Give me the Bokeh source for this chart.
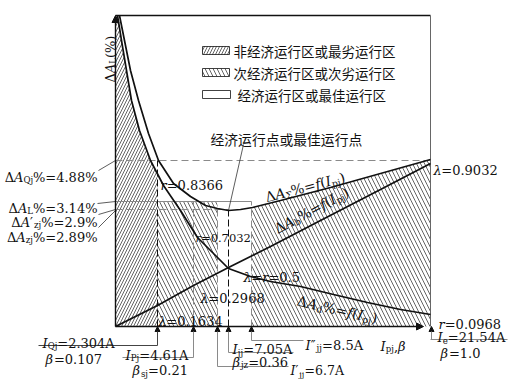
import math
import numpy as np
from bokeh.plotting import figure
from bokeh.models import Range1d, Arrow, NormalHead, ColumnDataSource
from bokeh.core.properties import value, field
from bokeh.embed import file_html
from bokeh.resources import INLINE

# ---------------- data (schematic units) ----------------
# x: position along the I_pj axis (origin 0, I_e at 315); y: height above the axis
sigma_x = [4, 9, 15, 23, 33, 43, 58, 75, 90, 102, 113, 125, 137, 165, 215, 265, 315]
sigma_y = [311, 286, 256, 226, 193, 166, 143, 130, 121, 118, 116, 117, 119, 126, 139, 153, 167]
d_x = [2, 6, 11, 16, 24, 35, 48, 65, 82, 98, 113, 135, 155, 185, 218, 252, 285, 315]
d_y = [311, 286, 256, 226, 196, 166, 141, 116, 89, 73, 58, 50, 45, 40, 32, 24, 17, 12]
b_x = [0, 20, 42, 78, 113, 155, 205, 265, 315]
b_y = [0, 10, 21, 41, 59, 80, 106, 137, 163]

# characteristic currents (positions on the axis)
x_Qj, x_Pj, x_jj1, x_jj, x_jj2, x_e = 42, 78, 102, 113, 136, 315
# characteristic loss levels
y_Qj, y_L, y_zj1, y_zj = 166, 125, 117, 116
y_top = 311

legend_labels = ["非经济运行区或最劣运行区", "次经济运行区或次劣运行区", "经济运行区或最佳运行区"]
point_label = "经济运行点或最佳运行点"

BLACK = "#111111"
GRAY = "#8a8a8a"

p = figure(width=511, height=380, x_range=Range1d(-115, 396), y_range=Range1d(-54, 326),
           output_backend="svg", toolbar_location=None, x_axis_type=None, y_axis_type=None,
           min_border=0)
p.grid.visible = False
p.outline_line_color = None

# ---------------- hatched regions ----------------
d_at_Qj = float(np.interp(x_Qj, d_x, d_y))
h1x = [0, 0] + [x for x in d_x if x < x_Qj] + [x_Qj, x_Qj]
h1y = [0, y_top] + [y for x, y in zip(d_x, d_y) if x < x_Qj] + [d_at_Qj, 0]
p.patch(h1x, h1y, fill_alpha=0, line_color=None, hatch_pattern="/", hatch_scale=6,
        hatch_weight=0.7, hatch_color="#222222")

h2x = [x_Qj, x_Qj, x_jj1, x_jj1]
h2y = [0, y_L, y_L, 0]
p.patch(h2x, h2y, fill_alpha=0, line_color=None, hatch_pattern="\\", hatch_scale=8,
        hatch_weight=0.7, hatch_color="#222222")

s_at = float(np.interp(x_jj2, sigma_x, sigma_y))
h3x = [x_jj2, x_jj2] + [x for x in sigma_x if x > x_jj2] + [x_e]
h3y = [0, s_at] + [y for x, y in zip(sigma_x, sigma_y) if x > x_jj2] + [0]
p.patch(h3x, h3y, fill_alpha=0, line_color=None, hatch_pattern="\\", hatch_scale=8,
        hatch_weight=0.7, hatch_color="#222222")

# ---------------- legend ----------------
lg_left, lg_right = 87, 114
lg_rows = [276, 254, 232]
p.quad(left=[lg_left], right=[lg_right], bottom=[lg_rows[0] - 4], top=[lg_rows[0] + 4],
       fill_alpha=0, line_color=BLACK, line_width=0.8, hatch_pattern="/", hatch_scale=6,
       hatch_weight=0.7, hatch_color="#222222")
p.quad(left=[lg_left], right=[lg_right], bottom=[lg_rows[1] - 4], top=[lg_rows[1] + 4],
       fill_alpha=0, line_color=BLACK, line_width=0.8, hatch_pattern="\\", hatch_scale=8,
       hatch_weight=0.7, hatch_color="#222222")
p.quad(left=[lg_left], right=[lg_right + 1], bottom=[lg_rows[2] - 4], top=[lg_rows[2] + 4],
       fill_alpha=0, line_color=BLACK, line_width=0.8)
p.text(x=[lg_right + 4, lg_right + 4, lg_right + 8], y=lg_rows, text=legend_labels,
       text_font=value("Noto Sans CJK SC"), text_font_size=value("13.5px"),
       text_baseline="middle", text_color=BLACK)
p.text(x=[95], y=[188], text=[point_label], text_font=value("Noto Sans CJK SC"),
       text_font_size=value("13.8px"), text_baseline="middle", text_color=BLACK)

# ---------------- reference lines ----------------
# gray dashed
p.segment(x0=[0, 0, x_Pj, x_jj1, x_jj2], y0=[y_Qj, y_zj1, 0, 0, 0],
          x1=[x_e, x_jj, x_Pj, x_jj1, x_jj2], y1=[y_Qj, y_zj1, y_L, y_zj1, y_L],
          line_color=GRAY, line_width=1, line_dash="7 4")
# gray solid level line
p.segment(x0=[0], y0=[y_L], x1=[x_jj2], y1=[y_L], line_color=GRAY, line_width=1)
# black dashed verticals
p.segment(x0=[x_Qj, x_jj], y0=[0, 0], x1=[x_Qj, x_jj], y1=[y_Qj, y_zj],
          line_color=BLACK, line_width=1, line_dash="7 3")
# frame: top and right
p.segment(x0=[0], y0=[y_top], x1=[x_e], y1=[y_top], line_color=BLACK, line_width=1.6)
p.segment(x0=[x_e], y0=[y_top], x1=[x_e], y1=[0], line_color="#666666", line_width=1)

# leaders from left labels
p.segment(x0=[-17, -18, -17, -17], y0=[156, 123, 112, 99],
          x1=[0, 0, 0, 0], y1=[y_Qj, y_L, y_zj1, y_zj], line_color="#333333", line_width=0.8)
# leader to the optimum point
p.segment(x0=[128], y0=[182], x1=[x_jj], y1=[y_zj], line_color="#333333", line_width=0.8)

# ---------------- curves ----------------
p.line(sigma_x, sigma_y, line_color=BLACK, line_width=1.7)
p.line(d_x, d_y, line_color=BLACK, line_width=1.7)
p.line(b_x, b_y, line_color=BLACK, line_width=1.7)

# ---------------- axes (arrows) ----------------
p.add_layout(Arrow(x_start=0, y_start=0, x_end=0, y_end=y_top, line_color=BLACK, line_width=1.4,
                   end=NormalHead(size=7, fill_color=BLACK, line_color=BLACK)))
p.add_layout(Arrow(x_start=0, y_start=0, x_end=308, y_end=0, line_color=BLACK, line_width=1.4,
                   end=NormalHead(size=7, fill_color=BLACK, line_color=BLACK)))

# ---------------- bottom annotation lines ----------------
p.segment(x0=[7, x_jj, x_jj1, x_jj2, x_e],
          y0=[-31, -26, -40, -14, -13],
          x1=[x_Pj, 178, 173, 188, 392],
          y1=[-31, -26, -40, -14, -13],
          line_color=GRAY, line_width=1)
p.segment(x0=[-77], y0=[-19], x1=[x_Qj], y1=[-19], line_color="#444444", line_width=1)
arrow_specs = [(x_Qj, -19, "#444444"), (x_Pj, -31, GRAY), (x_jj1, -40, GRAY),
               (x_jj, -26, GRAY), (x_jj2, -14, GRAY), (x_e + 1, -13, GRAY)]
for ax, ay, col in arrow_specs:
    p.add_layout(Arrow(x_start=ax, y_start=ay, x_end=ax, y_end=0, line_color=col, line_width=1,
                       end=NormalHead(size=5, fill_color=BLACK, line_color=BLACK)))

# ---------------- rich text helper ----------------
W = {'0': .636, '1': .636, '2': .636, '3': .636, '4': .636, '5': .636, '6': .636, '7': .636,
     '8': .636, '9': .636, '.': .318, '=': .838, '%': .950, 'A': .722, 'Δ': .722, 'Σ': .664,
     'I': .402, 'Q': .787, 'P': .673, 'L': .654, 'j': .321, 'z': .525, 's': .513, 'p': .640,
     'e': .592, 'b': .640, 'd': .640, 'f': .370, 'r': .478, '(': .390, ')': .390, ',': .318,
     'λ': .60, 'β': .65, '′': .30, '″': .45, ' ': .318}
SUB = 0.66
groups = {"normal": dict(x=[], y=[], text=[], angle=[], fs=[]),
          "italic": dict(x=[], y=[], text=[], angle=[], fs=[])}


def rich(x, y, segs, size=13.0, angle=0.0, align="left"):
    widths = []
    for t, k in segs:
        fs = size * SUB if k == "s" else size
        widths.append(sum(W.get(c, 0.6) for c in t) * fs)
    d = -sum(widths) if align == "right" else 0.0
    ca, sa = math.cos(angle), math.sin(angle)
    for (t, k), w in zip(segs, widths):
        off = size * 0.24 if k == "s" else 0.0
        fs = size * SUB if k == "s" else size
        g = groups["italic" if k == "i" else "normal"]
        g["x"].append(x + d * ca + off * sa)
        g["y"].append(y + d * sa - off * ca)
        g["text"].append(t)
        g["angle"].append(angle)
        g["fs"].append("%.1fpx" % fs)
        d += w


N, I, S = "n", "i", "s"
# y-axis title
rich(-5.5, 244, [("Δ", N), ("A", I), ("L", S), ("(%)", N)], angle=math.pi / 2)
# left level labels
rich(-18, 149.5, [("Δ", N), ("A", I), ("Qj", S), ("%=4.88%", N)], align="right")
rich(-18, 118.5, [("Δ", N), ("A", I), ("L", S), ("%=3.14%", N)], align="right")
rich(-18, 104.5, [("Δ", N), ("A", I), ("′", N), ("zj", S), ("%=2.9%", N)], align="right")
rich(-18, 89.5, [("Δ", N), ("A", I), ("zj", S), ("%=2.89%", N)], align="right")
# in-plot parameter labels
rich(45, 141.5, [("r", I), ("=0.8366", N)])
rich(80, 89, [("r", I), ("=0.7032", N)], size=11.5)
rich(128, 49.5, [("λ", I), ("=", N), ("r", I), ("=0.5", N)])
rich(85, 28.5, [("λ", I), ("=0.2968", N)])
rich(43, 5.5, [("λ", I), ("=0.1634", N)])
rich(318, 156.5, [("λ", I), ("=0.9032", N)])
rich(323, 2.5, [("r", I), ("=0.0968", N)])
# curve labels
rich(150, 129, [("Δ", N), ("A", I), ("Σ", S), ("%=", N), ("f", I), ("(", N), ("I", I), ("pj", S), (")", N)],
     size=14, angle=0.253)
rich(160, 97, [("Δ", N), ("A", I), ("b", S), ("%=", N), ("f", I), ("(", N), ("I", I), ("pj", S), (")", N)],
     size=14, angle=0.489)
rich(182, 26, [("Δ", N), ("A", I), ("d", S), ("%=", N), ("f", I), ("(", N), ("I", I), ("pj", S), (")", N)],
     size=14, angle=-0.227)
# axis title
rich(265, -19.5, [("I", I), ("pj", S), (",", N), ("β", I)])
# bottom annotations
rich(-73, -16.5, [("I", I), ("Qj", S), ("=2.304A", N)])
rich(-70, -32.5, [("β", I), ("=0.107", N)])
rich(10, -28.5, [("I", I), ("Pj", S), ("=4.61A", N)])
rich(17, -44, [("β", I), ("sj", S), ("=0.21", N)])
rich(117, -23, [("I", I), ("jj", S), ("=7.05A", N)])
rich(117, -35.5, [("β", I), ("jz", S), ("=0.36", N)])
rich(175, -44, [("I", I), ("′", N), ("jj", S), ("=6.7A", N)], size=12.5)
rich(190, -18.5, [("I", I), ("″", N), ("jj", S), ("=8.5A", N)])
rich(322, -10.5, [("I", I), ("e", S), ("=21.54A", N)])
rich(325, -26.5, [("β", I), ("=1.0", N)])

for style, g in groups.items():
    src = ColumnDataSource(g)
    p.text(x="x", y="y", text="text", angle="angle", source=src,
           text_font=value("DejaVu Serif"), text_font_size=field("fs"),
           text_font_style=style, text_baseline="alphabetic", text_align="left",
           text_color=BLACK)

open("out.html", "w").write(file_html(p, INLINE))
